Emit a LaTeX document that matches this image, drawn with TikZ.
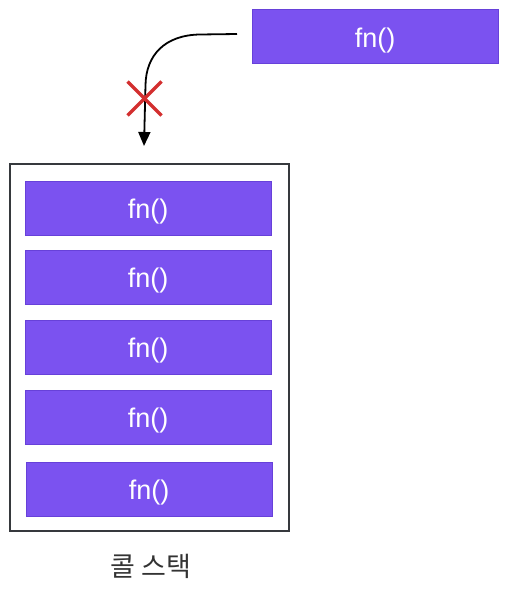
\documentclass[tikz,border=0pt]{standalone}
\usepackage{fontspec}
\setmainfont{Liberation Sans}
\newfontfamily\krfont{Noto Sans CJK KR}
\usetikzlibrary{arrows.meta,calc}
\definecolor{fnfill}{HTML}{7B52F0}
\definecolor{fnedge}{HTML}{6741D9}
\definecolor{stackedge}{HTML}{36393D}
\definecolor{crossred}{HTML}{D32F2F}
\definecolor{labelgray}{HTML}{333333}
\newcommand{\fntext}{\raisebox{-3.5pt}[\height][\depth]{fn()}}
\tikzset{
  fnbox/.style={draw=fnedge, fill=fnfill, line width=1pt, minimum width=246pt, minimum height=54pt, inner sep=0pt, text=white, font=\fontsize{27}{30}\selectfont},
  stackframe/.style={draw=stackedge, line width=1.5pt},
  crossline/.style={draw=crossred, line width=3.2pt},
}
\begin{document}
\begin{tikzpicture}[x=1pt,y=-1pt]
\useasboundingbox (0,0) rectangle (507,591);
\node[fnbox] (top) at (375,37) {\fntext};
\draw[stackframe] (10,164) rectangle (289,531);
\node[fnbox] (s1) at (148,208) {\fntext};
\node[fnbox] (s2) at (148,277) {\fntext};
\node[fnbox] (s3) at (148,347) {\fntext};
\node[fnbox] (s4) at (148,417) {\fntext};
\node[fnbox] (s5) at (149,489) {\fntext};
\node[text=labelgray, font=\krfont\fontsize{27}{30}\selectfont] (lbl) at (151,566) {콜 스택};
\coordinate (start) at (237,34);
\coordinate (tip) at (144,146);
\draw[line width=1.8pt, -{Triangle[length=14pt,width=12pt]}] (start) -- (200,34.5) .. controls (165,35) and (146,55) .. (145.5,85) -- (tip);
\coordinate (cx) at (144.5,98.5);
\draw[crossline] ($(cx)+(-17,-17)$) -- ($(cx)+(17,17)$);
\draw[crossline] ($(cx)+(17,-17)$) -- ($(cx)+(-17,17)$);
\end{tikzpicture}
\end{document}
